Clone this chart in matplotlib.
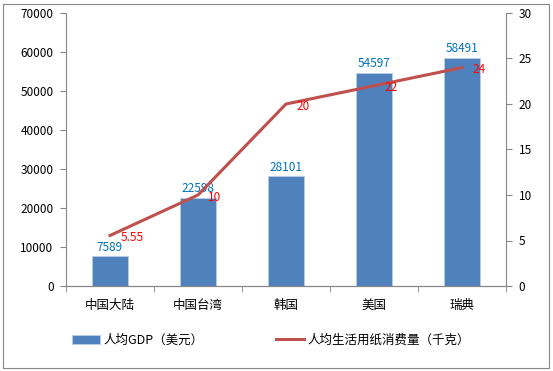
import numpy as np
import matplotlib
matplotlib.use('Agg')
import matplotlib.pyplot as plt
from matplotlib.patches import Rectangle

plt.rcParams['font.family'] = ['Noto Sans CJK SC', 'DejaVu Sans']

regions = ['中国大陆', '中国台湾', '韩国', '美国', '瑞典']
gdp = [7589, 22598, 28101, 54597, 58491]
paper = [5.55, 10, 20, 22, 24]
paper_labels = ['5.55', '10', '20', '22', '24']

bar_col = '#4F81BD'
line_col = '#C0504D'
axis_col = '#868686'

fig = plt.figure(figsize=(5.53, 3.71), dpi=100)
ax = fig.add_axes([66/553, 1-286/371, 440/553, 273/371])
ax2 = ax.twinx()

x = np.arange(len(regions))
bars = ax.bar(x, gdp, width=0.4, color=bar_col, edgecolor='#B9CDE5', linewidth=0.6, zorder=2)
ax.set_xlim(-0.5, len(regions)-0.5)
ax.set_ylim(0, 70000)
ax.set_yticks(np.arange(0, 70001, 10000))
for xi, v in zip(x, gdp):
    ax.annotate(str(v), (xi, v), xytext=(0, 2), textcoords='offset points',
                ha='center', va='bottom', color='#0070C0', fontsize=8.5)

ax2.plot(x, paper, color=line_col, linewidth=2.2, zorder=3)
ax2.set_ylim(0, 30)
ax2.set_yticks(np.arange(0, 31, 5))
for xi, v, t in zip(x, paper, paper_labels):
    ax2.annotate(t, (xi, v), xytext=(7.5, -1.5), textcoords='offset points',
                 ha='left', va='center', color='red', fontsize=8.5)

ax.set_xticks(x)
ax.set_xticklabels(regions)
ax.set_xticks(np.arange(-0.5, len(regions), 1), minor=True)
ax.tick_params(axis='x', which='major', length=0, pad=9, labelsize=9)
ax.tick_params(axis='x', which='minor', length=4, color=axis_col, direction='out')
ax.tick_params(axis='y', length=4, color=axis_col, labelsize=8.5, pad=5)
ax2.tick_params(axis='y', length=4, color=axis_col, labelsize=8.5, pad=5)

for a in (ax, ax2):
    a.spines['top'].set_visible(False)
    for s in ('left', 'right', 'bottom'):
        a.spines[s].set_color(axis_col)
ax.spines['right'].set_visible(False)
ax2.spines['left'].set_visible(False)

handles = [bars, ax2.lines[0]]
labels = ['人均GDP（美元）', '人均生活用纸消费量（千克）']
fig.legend(handles, labels, loc='center', bbox_to_anchor=(0.49, 1-340/371), ncol=2,
           frameon=False, fontsize=9, handlelength=2.2, columnspacing=5.8, handletextpad=0.3)

fig.patches.append(Rectangle((3/553, 3/371), 546/553, 364/371, transform=fig.transFigure,
                             fill=False, edgecolor='#868686', linewidth=0.8))

fig.savefig('out.png', dpi=100)
